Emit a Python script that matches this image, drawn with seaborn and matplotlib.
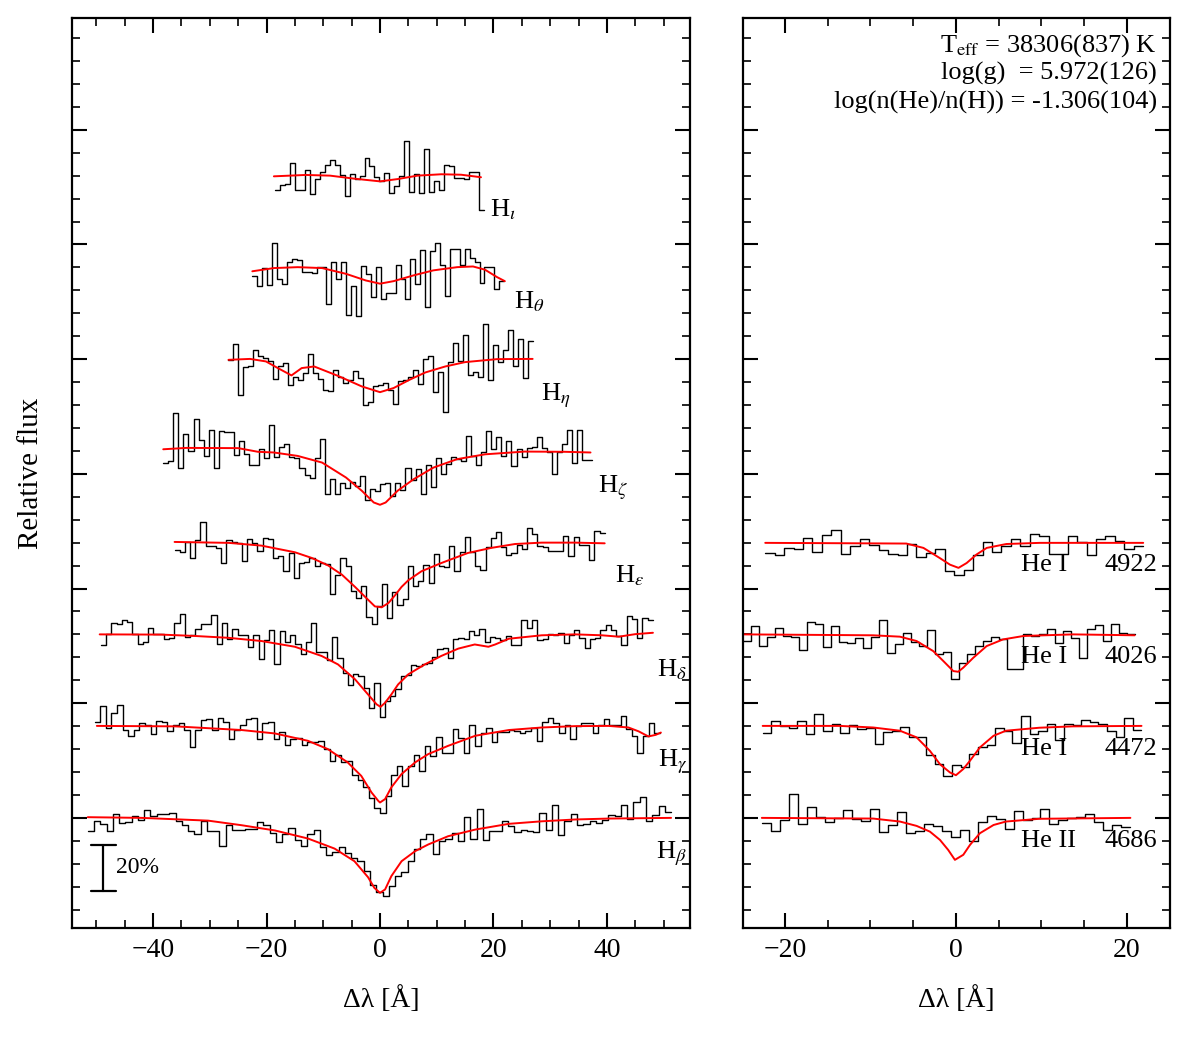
import numpy as np
import pandas as pd
import seaborn as sns
import matplotlib.pyplot as plt
from matplotlib.ticker import MultipleLocator

# Balmer lines: observed normalised flux per bin, wavelength range [A]
hb_obs = [0.942, 0.985, 0.975, 0.942, 1.017, 0.978, 0.983, 1.007, 0.991, 1.033,
          1.010, 1.015, 1.017, 1.020, 0.985, 0.967, 0.942, 0.930, 0.988, 0.942,
          0.942, 0.879, 0.971, 0.945, 0.945, 0.953, 0.953, 0.981, 0.968, 0.935,
          0.894, 0.930, 0.956, 0.903, 0.879, 0.930, 0.945, 0.874, 0.840, 0.852,
          0.872, 0.847, 0.823, 0.814, 0.770, 0.709, 0.677, 0.658, 0.702, 0.746,
          0.765, 0.814, 0.866, 0.910, 0.930, 0.843, 0.901, 0.910, 0.935, 0.898,
          1.004, 0.906, 1.039, 0.903, 0.942, 0.942, 0.985, 0.964, 0.939, 0.945,
          0.942, 0.938, 1.022, 0.946, 1.055, 0.927, 0.985, 1.019, 0.971, 0.974,
          0.988, 0.978, 0.990, 1.012, 1.007, 1.055, 0.993, 1.070, 1.092, 0.985,
          1.012, 1.051, 1.026]
hb_range = (-51.5, 51.3)

hg_obs = [1.017, 1.087, 0.993, 1.058, 1.094, 0.985, 0.959, 0.985, 1.015, 1.007,
          0.967, 1.022, 1.017, 0.978, 1.007, 1.012, 0.983, 0.910, 0.985, 1.026,
          1.029, 0.983, 1.036, 1.017, 0.942, 0.985, 1.007, 1.032, 1.036, 0.942,
          1.015, 1.017, 0.942, 0.974, 0.916, 0.945, 0.949, 0.916, 0.930, 0.930,
          0.935, 0.901, 0.847, 0.876, 0.843, 0.847, 0.785, 0.767, 0.735, 0.688,
          0.644, 0.622, 0.695, 0.785, 0.826, 0.741, 0.826, 0.876, 0.804, 0.913,
          0.869, 0.953, 0.884, 0.881, 0.988, 0.949, 0.881, 1.007, 0.913, 0.968,
          0.993, 0.930, 0.974, 0.974, 0.985, 0.978, 0.971, 0.978, 0.993, 0.935,
          1.017, 1.036, 1.015, 0.968, 1.007, 0.942, 1.000, 1.012, 1.015, 0.968,
          1.007, 1.032, 1.007, 1.003, 1.044, 0.988, 0.956, 0.881, 0.956, 1.015,
          0.971]
hg_range = (-50.3, 49.3)

hd_obs = [0.952, 1.000, 1.051, 1.044, 1.061, 1.055, 1.003, 0.956, 0.968, 1.026,
          1.003, 1.003, 0.978, 0.985, 1.048, 1.087, 0.990, 0.997, 1.022, 1.044,
          1.044, 1.083, 0.959, 1.051, 0.978, 1.022, 0.996, 0.996, 0.946, 0.997,
          0.894, 0.974, 1.017, 0.869, 1.016, 0.968, 0.997, 0.956, 0.916, 0.967,
          1.051, 0.924, 0.924, 0.887, 0.988, 0.895, 0.830, 0.779, 0.828, 0.818,
          0.767, 0.677, 0.789, 0.641, 0.709, 0.731, 0.760, 0.818, 0.823, 0.866,
          0.862, 0.869, 0.876, 0.903, 0.938, 0.942, 0.898, 0.978, 0.985, 0.978,
          1.015, 0.996, 1.022, 0.967, 0.988, 0.983, 0.974, 0.993, 0.952, 0.952,
          1.063, 1.029, 1.061, 0.974, 0.978, 1.000, 0.996, 1.007, 0.961, 0.996,
          1.019, 0.983, 0.939, 0.981, 0.985, 1.019, 1.041, 1.019, 0.993, 0.952,
          1.080, 1.065, 0.985, 1.073, 1.061]
hd_range = (-49.2, 48.1)

he_obs = [0.967, 0.959, 1.001, 0.933, 1.010, 1.089, 0.984, 0.987, 0.977, 0.911,
          1.010, 1.003, 0.999, 0.922, 1.016, 0.999, 0.962, 1.020, 1.016, 0.933,
          0.940, 0.878, 0.955, 0.846, 0.911, 0.914, 0.933, 0.900, 0.911, 0.908,
          0.778, 0.860, 0.933, 0.897, 0.788, 0.759, 0.813, 0.676, 0.647, 0.722,
          0.821, 0.672, 0.785, 0.730, 0.754, 0.897, 0.810, 0.831, 0.904, 0.824,
          0.951, 0.897, 0.894, 0.984, 0.875, 0.958, 1.025, 0.958, 0.900, 0.882,
          0.981, 1.020, 1.045, 0.981, 0.948, 0.955, 0.991, 0.972, 1.064, 1.039,
          0.984, 0.981, 0.965, 0.965, 0.965, 1.028, 0.940, 1.025, 0.991, 0.991,
          0.926, 1.049, 1.042]
he_range = (-36.2, 39.6)

hz_obs = [0.949, 0.956, 1.167, 0.927, 1.073, 1.000, 1.138, 1.047, 0.978, 1.090,
          0.927, 1.087, 1.084, 1.084, 0.981, 1.044, 0.985, 0.939, 0.939, 1.007,
          0.971, 1.112, 0.974, 1.015, 1.029, 0.974, 0.971, 0.927, 0.894, 0.881,
          0.971, 1.051, 0.811, 0.876, 0.811, 0.862, 0.840, 0.866, 0.847, 0.891,
          0.785, 0.833, 0.826, 0.855, 0.858, 0.804, 0.858, 0.828, 0.927, 0.872,
          0.920, 0.814, 0.939, 0.843, 0.971, 0.898, 0.942, 0.974, 0.964, 0.956,
          1.065, 0.978, 0.939, 0.993, 1.087, 1.007, 1.061, 0.978, 1.044, 0.935,
          1.007, 0.974, 1.012, 1.017, 1.061, 1.012, 0.993, 0.898, 0.993, 1.029,
          1.090, 0.949, 1.090, 0.959, 0.959]
hz_range = (-38.2, 37.4)

hn_obs = [0.997, 1.067, 0.844, 0.964, 0.968, 1.041, 1.012, 1.004, 0.990, 0.913,
          0.971, 0.985, 0.888, 0.924, 0.907, 0.939, 1.023, 0.939, 0.913, 0.866,
          0.859, 0.951, 0.924, 0.898, 0.910, 0.949, 0.917, 0.801, 0.815, 0.881,
          0.888, 0.895, 0.866, 0.805, 0.903, 0.907, 0.922, 0.953, 0.891, 1.000,
          1.012, 0.856, 0.946, 0.769, 0.987, 1.070, 0.990, 1.106, 0.932, 0.942,
          0.924, 1.154, 0.910, 1.063, 0.987, 1.038, 1.128, 0.972, 1.089, 0.917,
          1.081]
hn_range = (-26.7, 26.9)

ht_obs = [0.962, 0.919, 0.997, 0.922, 1.108, 0.951, 0.929, 1.023, 1.038, 1.033,
          0.980, 0.980, 0.975, 1.001, 1.001, 0.839, 1.023, 0.948, 1.023, 0.791,
          0.919, 0.786, 1.006, 0.972, 0.871, 1.001, 0.863, 0.888, 0.888, 1.012,
          0.948, 0.863, 1.038, 0.929, 1.074, 0.827, 1.071, 1.106, 1.009, 0.874,
          1.081, 1.081, 1.009, 1.081, 1.042, 1.023, 0.933, 1.001, 1.001, 0.904,
          0.940]
ht_range = (-22.5, 21.9)

hi_obs = [0.939, 0.958, 0.965, 1.055, 0.939, 0.936, 1.023, 0.922, 0.985, 1.016,
          1.045, 1.067, 1.045, 1.004, 0.910, 1.007, 0.985, 0.997, 1.077, 1.041,
          0.994, 0.975, 1.012, 0.924, 0.953, 1.000, 1.150, 0.927, 1.009, 0.924,
          1.116, 0.927, 0.975, 0.939, 1.048, 1.044, 0.990, 0.990, 0.985, 1.015,
          1.015, 0.852]
hi_range = (-18.5, 18.3)

# Balmer line model fits
hb_mod_x = [-51.5, -42, -30.3, -24.4, -18.5, -12.7, -8, -4.5, -2.1, -1.0, 0,
            0.9, 2.0, 3.8, 6.2, 8.5, 12, 16.8, 22.7, 28.5, 34.4, 40.3, 51.3]
hb_mod_y = [1.003, 1.0, 0.988, 0.968, 0.945, 0.910, 0.866, 0.811, 0.741, 0.695,
            0.673, 0.688, 0.746, 0.811, 0.855, 0.884, 0.920, 0.949, 0.974, 0.985,
            0.993, 0.997, 1.0]
hg_mod_x = [-49.9, -36.1, -24.4, -18.5, -12.7, -9.2, -5.7, -3.3, -1.5, -0.3, 0,
            0.9, 2.0, 3.8, 6.2, 8.5, 12, 16.8, 22.7, 28.5, 34.4, 40.3, 43.8,
            45.6, 47.3, 48.6, 49.5]
hg_mod_y = [1.001, 0.999, 0.983, 0.968, 0.936, 0.900, 0.842, 0.783, 0.711, 0.674,
            0.667, 0.682, 0.733, 0.791, 0.842, 0.878, 0.914, 0.958, 0.983, 0.994,
            1.0, 1.001, 0.994, 0.977, 0.955, 0.962, 0.972]
hd_mod_x = [-49.4, -38.5, -32.6, -26.7, -20.9, -15, -10.3, -7.4, -4.4, -2.1,
            -0.6, 0.1, 0.9, 2.0, 3.2, 5.0, 7.9, 10.8, 13.8, 16.7, 19.1, 20.3,
            22.7, 28.5, 34.4, 39.1, 42.1, 45, 48.1]
hd_mod_y = [1.0, 0.999, 0.993, 0.985, 0.971, 0.946, 0.906, 0.869, 0.804, 0.738,
            0.695, 0.684, 0.702, 0.738, 0.782, 0.826, 0.869, 0.906, 0.938, 0.956,
            0.946, 0.956, 0.981, 0.996, 1.0, 0.996, 0.990, 1.001, 1.007]
he_mod_x = [-36.2, -26.7, -20.9, -15, -12, -9.1, -6.7, -4.4, -2.6, -0.9, 0.3,
            1.5, 2.6, 3.8, 5.0, 7.3, 10.8, 15.5, 19.6, 23.8, 28.5, 34.4, 39.6]
he_mod_y = [1.003, 0.999, 0.987, 0.958, 0.933, 0.900, 0.860, 0.807, 0.763, 0.722,
            0.718, 0.737, 0.769, 0.807, 0.836, 0.875, 0.911, 0.955, 0.977, 0.994,
            1.0, 1.0, 0.997]
hz_mod_x = [-38.2, -34.1, -25.0, -21.5, -18.7, -14.5, -10.2, -6.0, -3.2, -1.1,
            0, 1.0, 3.1, 5.9, 9.4, 13.6, 18.5, 25.5, 32.6, 37.1]
hz_mod_y = [1.007, 1.013, 1.012, 0.996, 0.993, 0.978, 0.949, 0.884, 0.826, 0.775,
            0.765, 0.775, 0.826, 0.876, 0.927, 0.964, 0.985, 0.997, 0.996, 0.993]
hn_mod_x = [-26.7, -22.9, -20.1, -18.0, -15.6, -13.8, -11.6, -7.4, -3.2, 0,
            2.4, 5.2, 8.0, 11.5, 15.0, 20.6, 26.9]
hn_mod_y = [0.997, 1.001, 0.990, 0.961, 0.929, 0.961, 0.968, 0.927, 0.881, 0.856,
            0.874, 0.910, 0.942, 0.968, 0.987, 1.0, 1.001]
ht_mod_x = [-22.5, -18.7, -14.5, -10.2, -6.0, -2.5, 0, 2.4, 5.9, 9.4, 13.6,
            16.4, 18.5, 20.6, 22.0]
ht_mod_y = [0.983, 0.997, 1.001, 0.997, 0.972, 0.943, 0.929, 0.940, 0.965, 0.987,
            1.001, 1.004, 0.990, 0.958, 0.940]
hi_mod_x = [-18.7, -13.1, -8.8, -4.6, 0, 3.1, 6.6, 10.8, 14.3, 17.8]
hi_mod_y = [0.997, 1.003, 1.0, 0.987, 0.975, 0.985, 1.0, 1.006, 1.004, 0.993]

# Helium lines
he4922_obs = [0.955, 0.948, 0.977, 0.972, 1.020, 0.959, 1.035, 1.057, 0.952, 0.984,
              1.016, 0.991, 0.969, 0.952, 0.948, 0.994, 0.938, 0.955, 0.972, 0.878,
              0.860, 0.879, 0.948, 1.003, 0.959, 0.984, 1.016, 0.984, 1.038, 1.028,
              0.952, 0.952, 1.028, 1.001, 0.948, 1.016, 1.031, 1.006, 0.972, 0.987]
he4922_range = (-22.3, 21.9)
he4026_obs = [0.971, 1.036, 0.949, 0.988, 1.029, 0.993, 0.988, 0.930, 1.055, 1.044,
              0.945, 1.036, 0.968, 0.961, 0.985, 0.939, 0.988, 1.062, 0.920, 0.956,
              1.007, 0.967, 0.949, 1.019, 0.913, 0.923, 0.804, 0.874, 0.916, 0.949,
              0.971, 0.990, 0.978, 0.847, 0.847, 1.003, 0.993, 1.000, 1.025, 0.964,
              1.015, 0.985, 0.898, 1.022, 1.041, 0.971, 1.047, 1.007, 1.000]
he4026_range = (-24.9, 20.9)
he4472_obs = [0.972, 1.023, 1.001, 0.994, 1.023, 0.965, 1.055, 0.977, 1.009, 0.969,
              1.004, 0.987, 0.991, 0.922, 0.975, 0.980, 0.997, 0.953, 0.951, 0.874,
              0.834, 0.781, 0.831, 0.820, 0.878, 0.911, 0.917, 0.990, 0.977, 0.926,
              1.045, 0.965, 0.977, 1.009, 0.940, 1.009, 1.004, 1.028, 1.020, 1.009,
              0.980, 0.951, 1.035, 0.983]
he4472_range = (-22.6, 21.7)
he4686_obs = [0.977, 0.943, 0.991, 1.103, 0.974, 1.047, 1.003, 0.981, 0.999, 1.035,
              0.994, 0.988, 1.038, 0.938, 0.969, 1.025, 0.933, 0.943, 0.972, 0.965,
              0.943, 0.916, 0.948, 0.900, 0.984, 1.009, 0.996, 0.951, 1.031, 0.991,
              0.999, 1.038, 0.974, 0.991, 0.999, 1.003, 1.016, 0.984, 0.948, 0.967,
              0.959]
he4686_range = (-22.7, 20.4)

he4922_mod_x = [-22.3, -5.8, -3.8, -1.9, -0.7, 0.3, 1.25, 2.4, 3.6, 5.9, 9.8, 21.9]
he4922_mod_y = [0.999, 0.996, 0.977, 0.933, 0.904, 0.890, 0.911, 0.948, 0.977, 0.994,
                0.999, 0.999]
he4026_mod_x = [-24.9, -9.7, -6.55, -4.6, -2.65, -1.48, -0.31, 0.27, 0.86, 2.03,
                3.59, 5.5, 7.9, 13.7, 20.9]
he4026_mod_y = [1.0, 0.996, 0.990, 0.971, 0.927, 0.884, 0.840, 0.837, 0.855, 0.898,
                0.949, 0.978, 0.993, 1.0, 0.996]
he4472_mod_x = [-22.6, -13.6, -9.67, -6.55, -4.6, -3.04, -1.87, -0.7, 0, 0.86,
                1.64, 2.8, 4.4, 5.85, 9.75, 13.65, 21.7]
he4472_mod_y = [1.001, 1.001, 0.994, 0.980, 0.951, 0.892, 0.834, 0.798, 0.786, 0.813,
                0.849, 0.907, 0.958, 0.980, 0.993, 0.999, 1.001]
he4686_mod_x = [-22.7, -9.67, -6.55, -4.6, -3.04, -1.87, -0.9, -0.12, 0.86, 1.64,
                2.8, 4.4, 5.85, 9.75, 20.4]
he4686_mod_y = [1.0, 0.997, 0.984, 0.965, 0.940, 0.904, 0.860, 0.817, 0.839, 0.882,
                0.933, 0.969, 0.984, 0.996, 1.0]

balmer_labels = [r"H$_\beta$", r"H$_\gamma$", r"H$_\delta$", r"H$_\varepsilon$",
                 r"H$_\zeta$", r"H$_\eta$", r"H$_\theta$", r"H$_\iota$"]
balmer_offsets = [1.0, 1.4, 1.8, 2.2, 2.6, 3.0, 3.4, 3.8]
helium_ions = ["He II", "He I", "He I", "He I"]
helium_waves = ["4686", "4472", "4026", "4922"]
helium_offsets = [1.0, 1.4, 1.8, 2.2]
fit_text = [r"T$_{\rm eff}$ = 38306(837) K", "log(g)  = 5.972(126)",
            "log(n(He)/n(H)) = -1.306(104)"]

balmer = [(hb_obs, hb_range, hb_mod_x, hb_mod_y),
          (hg_obs, hg_range, hg_mod_x, hg_mod_y),
          (hd_obs, hd_range, hd_mod_x, hd_mod_y),
          (he_obs, he_range, he_mod_x, he_mod_y),
          (hz_obs, hz_range, hz_mod_x, hz_mod_y),
          (hn_obs, hn_range, hn_mod_x, hn_mod_y),
          (ht_obs, ht_range, ht_mod_x, ht_mod_y),
          (hi_obs, hi_range, hi_mod_x, hi_mod_y)]
helium = [(he4686_obs, he4686_range, he4686_mod_x, he4686_mod_y),
          (he4472_obs, he4472_range, he4472_mod_x, he4472_mod_y),
          (he4026_obs, he4026_range, he4026_mod_x, he4026_mod_y),
          (he4922_obs, he4922_range, he4922_mod_x, he4922_mod_y)]

sns.set_theme(style="ticks")
plt.rcParams["font.family"] = ["Liberation Serif", "DejaVu Serif"]
plt.rcParams["mathtext.fontset"] = "stix"
plt.rcParams["axes.unicode_minus"] = True
for key in ["text.color", "axes.labelcolor", "axes.edgecolor",
            "xtick.color", "ytick.color"]:
    plt.rcParams[key] = "black"


def draw_line(ax, obs, rng, mx, my, off):
    edges = np.linspace(rng[0], rng[1], len(obs) + 1)
    flux = np.append(obs, obs[-1]) - 1 + off
    sns.lineplot(x=edges, y=flux, ax=ax, color="black", lw=1.0,
                 drawstyle="steps-post", estimator=None, sort=False)
    sns.lineplot(x=mx, y=np.array(my) - 1 + off, ax=ax, color="red", lw=1.4,
                 estimator=None, sort=False)


def style_axes(ax):
    ax.set_ylim(0.52, 4.487)
    ax.yaxis.set_major_locator(MultipleLocator(0.5))
    ax.yaxis.set_minor_locator(MultipleLocator(0.1))
    ax.xaxis.set_minor_locator(MultipleLocator(5))
    ax.tick_params(which="both", direction="in", top=True, right=True,
                   labelleft=False, labelsize=20, pad=7, colors="black")
    ax.tick_params(which="major", length=11, width=1.5)
    ax.tick_params(which="minor", length=5.5, width=1.2)
    for s in ax.spines.values():
        s.set_linewidth(1.6)
        s.set_color("black")
    ax.set_xlabel("Δλ [Å]", fontsize=20, labelpad=17)
    ax.set_ylabel("")


fig = plt.figure(figsize=(11.89, 10.38), dpi=100)
ax1 = fig.add_axes([0.0606, 0.106, 0.5197, 0.8766])
ax2 = fig.add_axes([0.6249, 0.106, 0.3591, 0.8766])

label_x = [48.6, 49.0, 48.8, 41.4, 38.4, 28.4, 23.6, 19.4]
label_dy = [0.175, 0.175, 0.183, 0.175, 0.187, 0.18, 0.179, 0.179]
for (obs, rng, mx, my), off, lab, lx, dy in zip(balmer, balmer_offsets,
                                                 balmer_labels, label_x, label_dy):
    draw_line(ax1, obs, rng, mx, my, off)
    ax1.text(lx, off - dy, lab, fontsize=19, va="baseline", ha="left")

for (obs, rng, mx, my), off, ion, wave in zip(helium, helium_offsets,
                                             helium_ions, helium_waves):
    draw_line(ax2, obs, rng, mx, my, off)
    ax2.text(7.6, off - 0.125, ion, fontsize=19, va="baseline", ha="left")
    ax2.text(23.5, off - 0.125, wave, fontsize=19, va="baseline", ha="right")

# 20% scale bar
ax1.plot([-48.8, -48.8], [0.68, 0.88], color="black", lw=1.6)
ax1.plot([-51, -46.6], [0.68, 0.68], color="black", lw=1.6)
ax1.plot([-51, -46.6], [0.88, 0.88], color="black", lw=1.6)
ax1.text(-46.6, 0.785, "20%", fontsize=17, va="center", ha="left")

for i, t in enumerate(fit_text):
    ax2.text(0.97, 0.963 - 0.031 * i, t, transform=ax2.transAxes, fontsize=19,
             ha="right", va="baseline")

ax1.set_xlim(-54.27, 54.63)
ax2.set_xlim(-24.9, 25.03)
ax1.set_xticks([-40, -20, 0, 20, 40])
ax2.set_xticks([-20, 0, 20])
style_axes(ax1)
style_axes(ax2)
ax1.set_ylabel("Relative flux", fontsize=21, labelpad=20)

fig.savefig("out.png", dpi=100)
